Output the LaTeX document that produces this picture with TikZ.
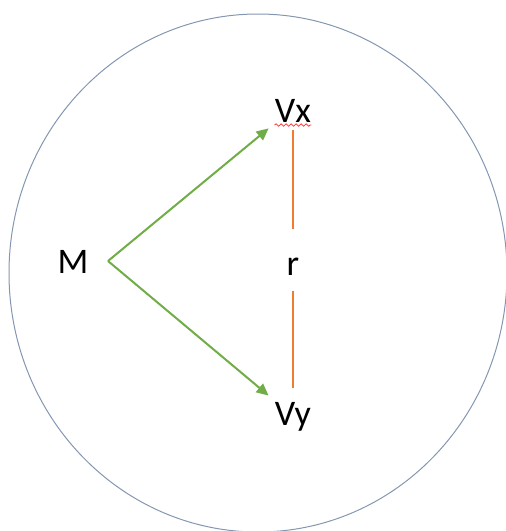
\documentclass[tikz,border=0pt]{standalone}
\usepackage{fontspec}
\setmainfont{Carlito}
\usetikzlibrary{arrows.meta,decorations.pathmorphing}
\definecolor{ringblue}{HTML}{8497B0}
\definecolor{arrgreen}{HTML}{70AD47}
\definecolor{linkorange}{HTML}{ED7D31}

\begin{document}
\begin{tikzpicture}[x=0.5pt,y=-0.5pt, every node/.style={font=\fontsize{18}{20}\selectfont,inner sep=3pt,anchor=base}, vec/.style={draw=arrgreen,line width=1pt,-{Triangle[length=6pt,width=5.5pt]}}, link/.style={draw=linkorange,line width=0.75pt}]
 \useasboundingbox (0,0) rectangle (505,531);
 \draw[ringblue,line width=0.5pt] (258,273) ellipse [x radius=124.5pt, y radius=129.5pt];
 \node (M) at (73,273) {M};
 \node (Vx) at (293,122) {Vx};
 \node (Vy) at (293,425) {Vy};
 \node (r) at (293,275) {r};
 \coordinate (apex) at (108,261);
 % vectors from M
 \draw[vec] (apex) -- (Vx.south west);
 \draw[vec] (apex) -- (Vy.north west);
 % distance r
 \draw[link,shorten <=1pt,shorten >=11pt] (Vx.south) -- (r.north);
 \draw[link,shorten <=5pt,shorten >=4pt] (r.south) -- (Vy.north);
 \draw[red!80,line width=0.4pt,decorate,decoration={snake,amplitude=0.6pt,segment length=2.5pt}] ([xshift=3pt,yshift=-1.5pt]Vx.base west) -- ([xshift=-3pt,yshift=-1.5pt]Vx.base east);
\end{tikzpicture}
\end{document}
